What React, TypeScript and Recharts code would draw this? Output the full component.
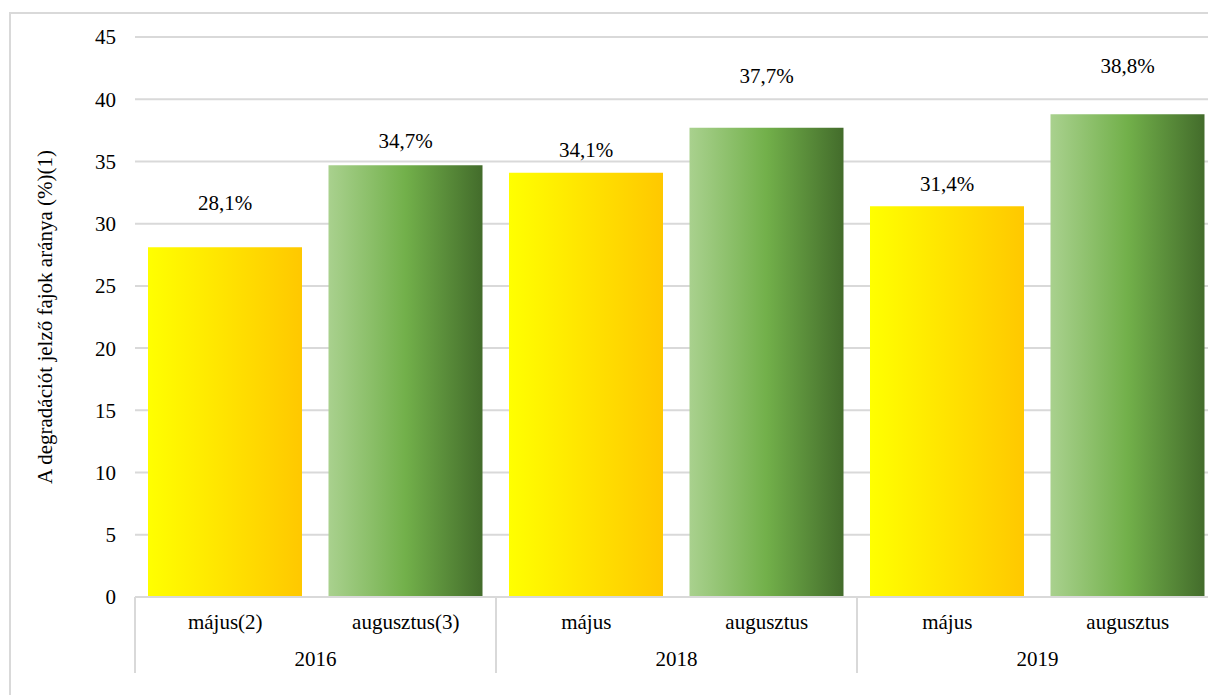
import { BarChart, Bar, XAxis, YAxis, CartesianGrid, Cell, LabelList } from "recharts";

// adatok
const MONTHS = ["május(2)", "augusztus(3)", "május", "augusztus", "május", "augusztus"];
const YEARS = ["2016", "2016", "2018", "2018", "2019", "2019"];
const VALUES = [28.1, 34.7, 34.1, 37.7, 31.4, 38.8];
const Y_TICKS = [0, 5, 10, 15, 20, 25, 30, 35, 40, 45];
// címkék távolsága az oszlop tetejétől (px)
const LABEL_LIFT = [44, 24, 23, 52, 22, 48];

const CHART_W = 1240;
const CHART_H = 695;
const PLOT_LEFT = 135;
const PLOT_TOP = 37;
const PLOT_BOTTOM = 597;
const MARGIN_RIGHT = 22;
const HALF_BAND = (CHART_W - MARGIN_RIGHT - PLOT_LEFT) / MONTHS.length / 2;

const FONT = "'Liberation Serif', 'Times New Roman', serif";
const FS = 21;
const GRID = "#d9d9d9";

const data = MONTHS.map((m, i) => ({ month: m, year: YEARS[i], value: VALUES[i] }));

function CategoryTick(props: any) {
  const { x, y, index } = props;
  const isFirst = index % 2 === 0;
  const isLast = index === MONTHS.length - 1;
  return (
    <g>
      <text x={x} y={y + 32} textAnchor="middle" fontFamily={FONT} fontSize={FS} fill="#000">
        {MONTHS[index]}
      </text>
      {isFirst && (
        <>
          <text x={x + HALF_BAND} y={y + 69} textAnchor="middle" fontFamily={FONT} fontSize={FS} fill="#000">
            {YEARS[index]}
          </text>
          <line x1={x - HALF_BAND} x2={x - HALF_BAND} y1={y} y2={y + 76} stroke={GRID} strokeWidth={2} />
        </>
      )}
      {isLast && (
        <line x1={x + HALF_BAND} x2={x + HALF_BAND} y1={y} y2={y + 76} stroke={GRID} strokeWidth={2} />
      )}
    </g>
  );
}

function ValueLabel(props: any) {
  const { x, y, width, value, index } = props;
  return (
    <text
      x={x + width / 2}
      y={y - LABEL_LIFT[index]}
      textAnchor="middle"
      dominantBaseline="central"
      fontFamily={FONT}
      fontSize={FS}
      fill="#000"
    >
      {value.toFixed(1).replace(".", ",") + "%"}
    </text>
  );
}

export default function App() {
  return (
    <div
      style={{
        position: "absolute",
        left: 0,
        top: 0,
        width: 1208,
        height: 695,
        overflow: "hidden",
        background: "#fff",
      }}
    >
      <div
        style={{
          position: "absolute",
          left: 9,
          top: 12,
          width: 1300,
          height: 800,
          border: `2px solid ${GRID}`,
          boxSizing: "border-box",
        }}
      />
      <div style={{ position: "absolute", left: 0, top: 0 }}>
        <BarChart
          width={CHART_W}
          height={CHART_H}
          data={data}
          margin={{ top: PLOT_TOP, right: MARGIN_RIGHT, left: 0, bottom: CHART_H - PLOT_BOTTOM - 80 }}
          barSize={154}
        >
          <defs>
            <linearGradient id="yellowGrad" x1="0" y1="0" x2="1" y2="0">
              <stop offset="0%" stopColor="#FFFF00" />
              <stop offset="100%" stopColor="#FFC800" />
            </linearGradient>
            <linearGradient id="greenGrad" x1="0" y1="0" x2="1" y2="0">
              <stop offset="0%" stopColor="#A9D18E" />
              <stop offset="50%" stopColor="#72B04A" />
              <stop offset="100%" stopColor="#436C2B" />
            </linearGradient>
          </defs>
          <CartesianGrid vertical={false} stroke={GRID} strokeWidth={2} />
          <XAxis
            dataKey="month"
            height={80}
            interval={0}
            tickLine={false}
            tickSize={0}
            tickMargin={0}
            axisLine={{ stroke: GRID, strokeWidth: 2 }}
            tick={<CategoryTick />}
          />
          <YAxis
            width={PLOT_LEFT}
            domain={[0, 45]}
            ticks={Y_TICKS}
            interval={0}
            axisLine={false}
            tickLine={false}
            tickSize={0}
            tickMargin={19}
            tick={{ fontFamily: FONT, fontSize: FS, fill: "#000" }}
            label={{
              value: "A degradációt jelző fajok aránya (%)(1)",
              angle: -90,
              position: "insideLeft",
              offset: 45,
              style: { textAnchor: "middle", fontFamily: FONT, fontSize: FS, fill: "#000" },
            }}
          />
          <Bar dataKey="value" isAnimationActive={false}>
            {data.map((d, i) => (
              <Cell key={d.month + i} fill={i % 2 === 0 ? "url(#yellowGrad)" : "url(#greenGrad)"} />
            ))}
            <LabelList dataKey="value" content={<ValueLabel />} />
          </Bar>
        </BarChart>
      </div>
    </div>
  );
}
